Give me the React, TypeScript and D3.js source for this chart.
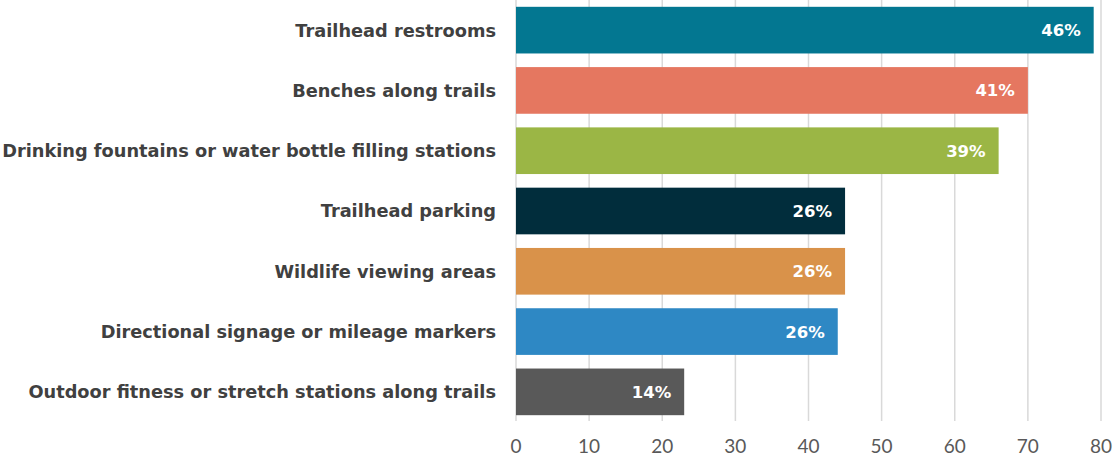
import React from "react";
import * as d3 from "d3";

const categories = [
  "Trailhead restrooms",
  "Benches along trails",
  "Drinking fountains or water bottle filling stations",
  "Trailhead parking",
  "Wildlife viewing areas",
  "Directional signage or mileage markers",
  "Outdoor fitness or stretch stations along trails",
];
const values = [79, 70, 66, 45, 45, 44, 23];
const valueLabels = ["46%", "41%", "39%", "26%", "26%", "26%", "14%"];
const colors = ["#037791", "#E57760", "#9BB645", "#012D3C", "#D9924A", "#2E88C4", "#595959"];
const ticks = [0, 10, 20, 30, 40, 50, 60, 70, 80];

const W = 1115;
const H = 462;
const LABEL_FONT = "'DejaVu Sans', sans-serif";
const TICK_FONT = "Lato, 'Open Sans', sans-serif";

export default function App() {
  const x = d3.scaleLinear().domain([0, 80]).range([516, 1101]);
  const y = d3.scaleBand<string>().domain(categories).range([0, 422]).paddingInner(0.226).paddingOuter(0.113);

  return (
    <svg width={W} height={H} style={{ position: "absolute", left: 0, top: 0, background: "#fff" }}>
      {ticks.map((t) => (
        <line key={"g" + t} x1={x(t)} x2={x(t)} y1={0} y2={421} stroke="#D9D9D9" strokeWidth={1.5} />
      ))}
      {categories.map((c, i) => (
        <g key={c}>
          <rect x={x(0)} y={y(c)} width={x(values[i]) - x(0)} height={y.bandwidth()} fill={colors[i]} />
          <text
            x={x(values[i]) - 13}
            y={(y(c) as number) + y.bandwidth() / 2}
            dy="0.36em"
            textAnchor="end"
            fill="#fff"
            fontFamily={LABEL_FONT}
            fontWeight="bold"
            fontSize={16.5}
          >
            {valueLabels[i]}
          </text>
          <text
            x={496}
            y={(y(c) as number) + y.bandwidth() / 2}
            dy="0.36em"
            textAnchor="end"
            fill="#404040"
            fontFamily={LABEL_FONT}
            fontWeight="bold"
            fontSize={17.75}
          >
            {c}
          </text>
        </g>
      ))}
      {ticks.map((t) => (
        <text
          key={"t" + t}
          x={x(t)}
          y={446}
          dy="0.35em"
          textAnchor="middle"
          fill="#595959"
          fontFamily={TICK_FONT}
          fontSize={19}
        >
          {t}
        </text>
      ))}
    </svg>
  );
}
